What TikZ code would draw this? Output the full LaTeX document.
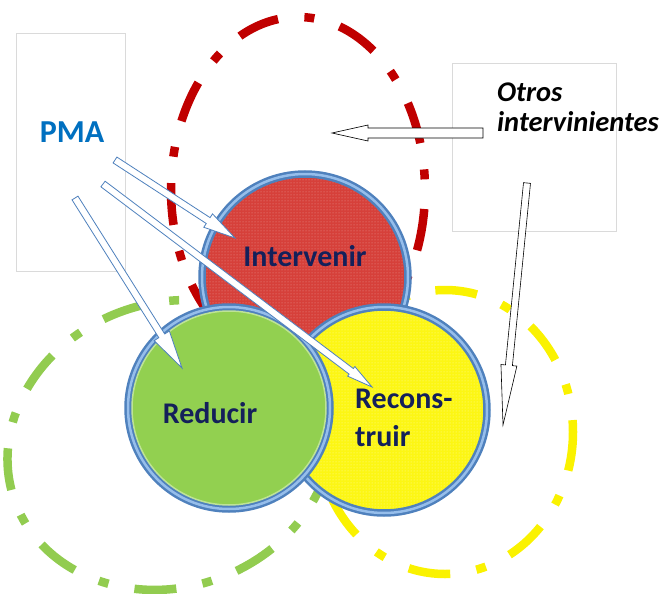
\documentclass[tikz,border=0pt]{standalone}
\usepackage{fontspec}
\setmainfont{Carlito}
\usetikzlibrary{calc,patterns}

\definecolor{pmablue}{RGB}{0,112,192}
\definecolor{ringblue}{RGB}{79,129,189}
\definecolor{ringlight}{RGB}{150,190,235}
\definecolor{redfill}{RGB}{214,64,58}
\definecolor{greenfill}{RGB}{146,208,80}
\definecolor{yellowfill}{RGB}{252,246,20}
\definecolor{dashred}{RGB}{192,0,0}
\definecolor{dashgreen}{RGB}{146,204,80}
\definecolor{dashyellow}{RGB}{250,242,0}
\definecolor{navytext}{RGB}{20,32,90}
\definecolor{framegray}{RGB}{218,218,218}

% block arrow: [style]{tail}{tip}{head length}{shaft half width}{head half width}
\newcommand\blockarrow[6][]{%
  \coordinate (headbase) at ($(#3)!#4!(#2)$);
  \draw[#1] ($(#2)!#5!90:(#3)$) -- ($(headbase)!#5!90:(#3)$)
    -- ($(headbase)!#6!90:(#3)$) -- (#3) -- ($(headbase)!#6!-90:(#3)$)
    -- ($(headbase)!#5!-90:(#3)$) -- ($(#2)!#5!-90:(#3)$) -- cycle;
}

\begin{document}
\begin{tikzpicture}[x=1pt,y=-1pt,
    infobox/.style={draw=framegray, line width=0.6pt, fill=white, inner sep=0pt},
    ring/.style={circle, inner sep=0pt, draw=ringblue, line width=2.5pt,
      double=ringlight, double distance=2.5pt},
    zone/.style={line width=8.5pt, dash pattern=on 42pt off 26.5pt on 10pt off 26.5pt},
    tag/.style={inner sep=0pt, text=navytext, font=\fontsize{30}{38}\selectfont\bfseries},
    pmaarrow/.style={draw=ringblue, fill=white, line width=0.8pt},
    otrosarrow/.style={draw=black, fill=white, line width=0.6pt}]
  \useasboundingbox (0,0) rectangle (667,594);

  % boxes
  \node[infobox, minimum width=109pt, minimum height=238pt] (pmabox) at (70.5,152) {};
  \node[infobox, minimum width=164pt, minimum height=168pt] (otrosbox) at (534,147) {};
  \node[inner sep=0pt, text=pmablue, font=\fontsize{32}{32}\selectfont\bfseries]
    (pma) at (72,132) {PMA};
  \node[anchor=north west, inner sep=0pt, align=left,
    font=\fontsize{28.5}{30}\selectfont\bfseries\itshape] (otros) at (497,83) {Otros\\intervinientes};

  % dash-dot zones
  \draw[zone, dashred, dash phase=86pt] (298,190) ellipse [x radius=127, y radius=173];
  \draw[zone, dashgreen, dash phase=30pt, rotate around={20:(170,445)}] (170,445) ellipse [x radius=165, y radius=142];
  \draw[zone, dashyellow, dash phase=3pt] (445,432) ellipse [x radius=128, y radius=142];

  % circles
  \node[ring, minimum size=206pt, preaction={fill=redfill},
    preaction={pattern=dots, pattern color=redfill!55!white}] (interv) at (305,277) {};
  \node[ring, minimum size=206pt, preaction={fill=yellowfill},
    preaction={pattern=dots, pattern color=yellowfill!40!white}] (recons) at (384,410) {};
  \node[ring, minimum size=202pt, preaction={fill=greenfill}] (reducir) at (229,408) {};
  \draw[white!40!greenfill, line width=1.5pt] (reducir.center) circle [radius=97];

  % arrows
  \coordinate (pmaA) at (115,160);
  \coordinate (pmaB) at (103,184);
  \coordinate (pmaC) at (75,198);
  \coordinate (intervtip) at (235,238);
  \coordinate (reconstip) at (372,387);
  \coordinate (reducirtip) at (182,368);
  \coordinate (otrosA) at (483,133);
  \coordinate (otrosB) at (527,183);
  \coordinate (leftip) at (332,133);
  \coordinate (downtip) at (503,425);
  \blockarrow[pmaarrow]{pmaA}{intervtip}{32pt}{3.5pt}{8pt}
  \blockarrow[pmaarrow]{pmaB}{reconstip}{26pt}{3.5pt}{6pt}
  \blockarrow[pmaarrow]{pmaC}{reducirtip}{38pt}{3.5pt}{9pt}
  \blockarrow[otrosarrow]{otrosA}{leftip}{36pt}{5pt}{8pt}
  \blockarrow[otrosarrow]{otrosB}{downtip}{60pt}{3.5pt}{8pt}

  % labels
  \node[tag] (intervtxt) at (305,256) {Intervenir};
  \node[tag] (reducirtxt) at (210,413) {Reducir};
  \node[tag, align=left, anchor=north west] (reconstxt) at (355,389) {Recons-\\truir};
\end{tikzpicture}
\end{document}
